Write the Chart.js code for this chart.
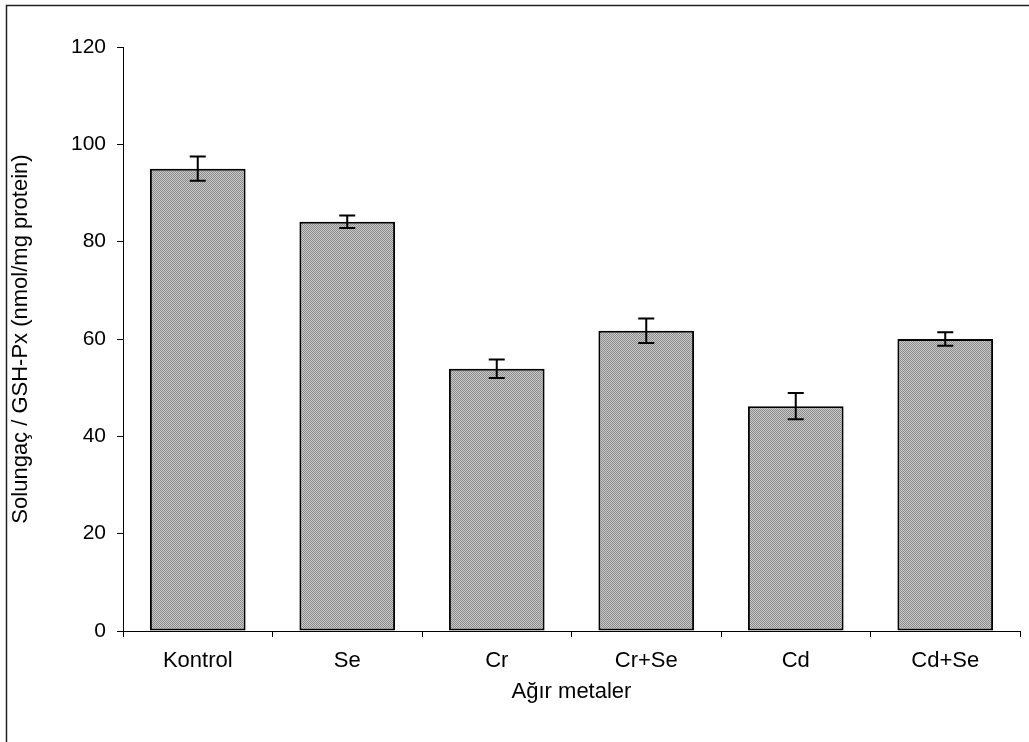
<!DOCTYPE html>
<html>
<head>
<meta charset="utf-8">
<script src="https://cdn.jsdelivr.net/npm/chart.js@4/dist/chart.umd.min.js"></script>
<style>
html,body{margin:0;padding:0;background:#fff;}
#wrap{width:1029px;height:742px;position:relative;}
</style>
</head>
<body>
<div id="wrap"><canvas id="c" width="1029" height="742"></canvas></div>
<script>
const categories = ["Kontrol", "Se", "Cr", "Cr+Se", "Cd", "Cd+Se"];
const values = [95.0, 84.1, 53.9, 61.7, 46.2, 60.0];
const errors = [2.5, 1.3, 1.9, 2.5, 2.7, 1.4];
const yTicks = [0, 20, 40, 60, 80, 100, 120];
const xTitle = "Ağır metaler";
const yTitle = "Solungaç / GSH-Px (nmol/mg protein)";

function makePattern() {
  const p = document.createElement('canvas');
  p.width = 2; p.height = 2;
  const g = p.getContext('2d');
  g.fillStyle = '#cacaca'; g.fillRect(0,0,2,2);
  g.fillStyle = '#8a8a8a'; g.fillRect(0,0,1,1); g.fillRect(1,1,1,1);
  return g.createPattern(p, 'repeat');
}

const frame = {
  id: 'frame',
  beforeDraw(chart) {
    const ctx = chart.ctx;
    ctx.save();
    ctx.fillStyle = '#fff';
    ctx.fillRect(0,0,chart.width,chart.height);
    ctx.strokeStyle = '#222';
    ctx.lineWidth = 1.5;
    ctx.beginPath();
    ctx.moveTo(6.5, chart.height);
    ctx.lineTo(6.5, 5.5);
    ctx.lineTo(chart.width, 5.5);
    ctx.stroke();
    ctx.restore();
  }
};

const errorBars = {
  id: 'errorBars',
  afterDatasetsDraw(chart) {
    const ctx = chart.ctx;
    const meta = chart.getDatasetMeta(0);
    const ys = chart.scales.y;
    ctx.save();
    ctx.strokeStyle = '#000';
    ctx.lineWidth = 2;
    meta.data.forEach((bar, i) => {
      const x = bar.x;
      const yt = ys.getPixelForValue(values[i] + errors[i]);
      const yb = ys.getPixelForValue(values[i] - errors[i]);
      const hw = 8;
      ctx.beginPath();
      ctx.moveTo(x, yt); ctx.lineTo(x, yb);
      ctx.moveTo(x - hw, yt); ctx.lineTo(x + hw, yt);
      ctx.moveTo(x - hw, yb); ctx.lineTo(x + hw, yb);
      ctx.stroke();
    });
    ctx.restore();
  }
};

const fam = "'Liberation Sans', Arial, sans-serif";
const textFont = { family: fam, size: 22 };
const numFont = { family: fam, size: 21 };

new Chart(document.getElementById('c'), {
  type: 'bar',
  data: {
    labels: categories,
    datasets: [{
      data: values,
      backgroundColor: makePattern(),
      borderColor: '#000',
      borderWidth: 2,
      borderSkipped: false,
      barPercentage: 0.64,
      categoryPercentage: 1.0
    }]
  },
  options: {
    responsive: false,
    animation: false,
    devicePixelRatio: 1,
    layout: { padding: { top: 47, right: 9, left: 0, bottom: 0 } },
    plugins: { legend: { display: false }, tooltip: { enabled: false } },
    scales: {
      x: {
        grid: { display: true, drawOnChartArea: false, drawTicks: true, tickLength: 6, color: '#000', offset: true },
        border: { display: true, color: '#000', width: 1 },
        ticks: { color: '#000', font: textFont, padding: 11, maxRotation: 0 },
        title: { display: true, text: xTitle, color: '#000', font: textFont, padding: { top: 0, bottom: 37 } },
        afterFit(s) { s.height = 111; }
      },
      y: {
        min: 0, max: 120,
        afterBuildTicks(s) { s.ticks = yTicks.map(v => ({ value: v })); },
        grid: { display: true, drawOnChartArea: false, drawTicks: true, tickLength: 6, color: '#000' },
        border: { display: true, color: '#000', width: 1 },
        ticks: { color: '#000', font: numFont, padding: 11 },
        title: { display: true, text: yTitle, color: '#000', font: textFont, padding: { top: 8, bottom: 0 } },
        afterFit(s) { s.width = 123; }
      }
    }
  },
  plugins: [frame, errorBars]
});
</script>
</body>
</html>
